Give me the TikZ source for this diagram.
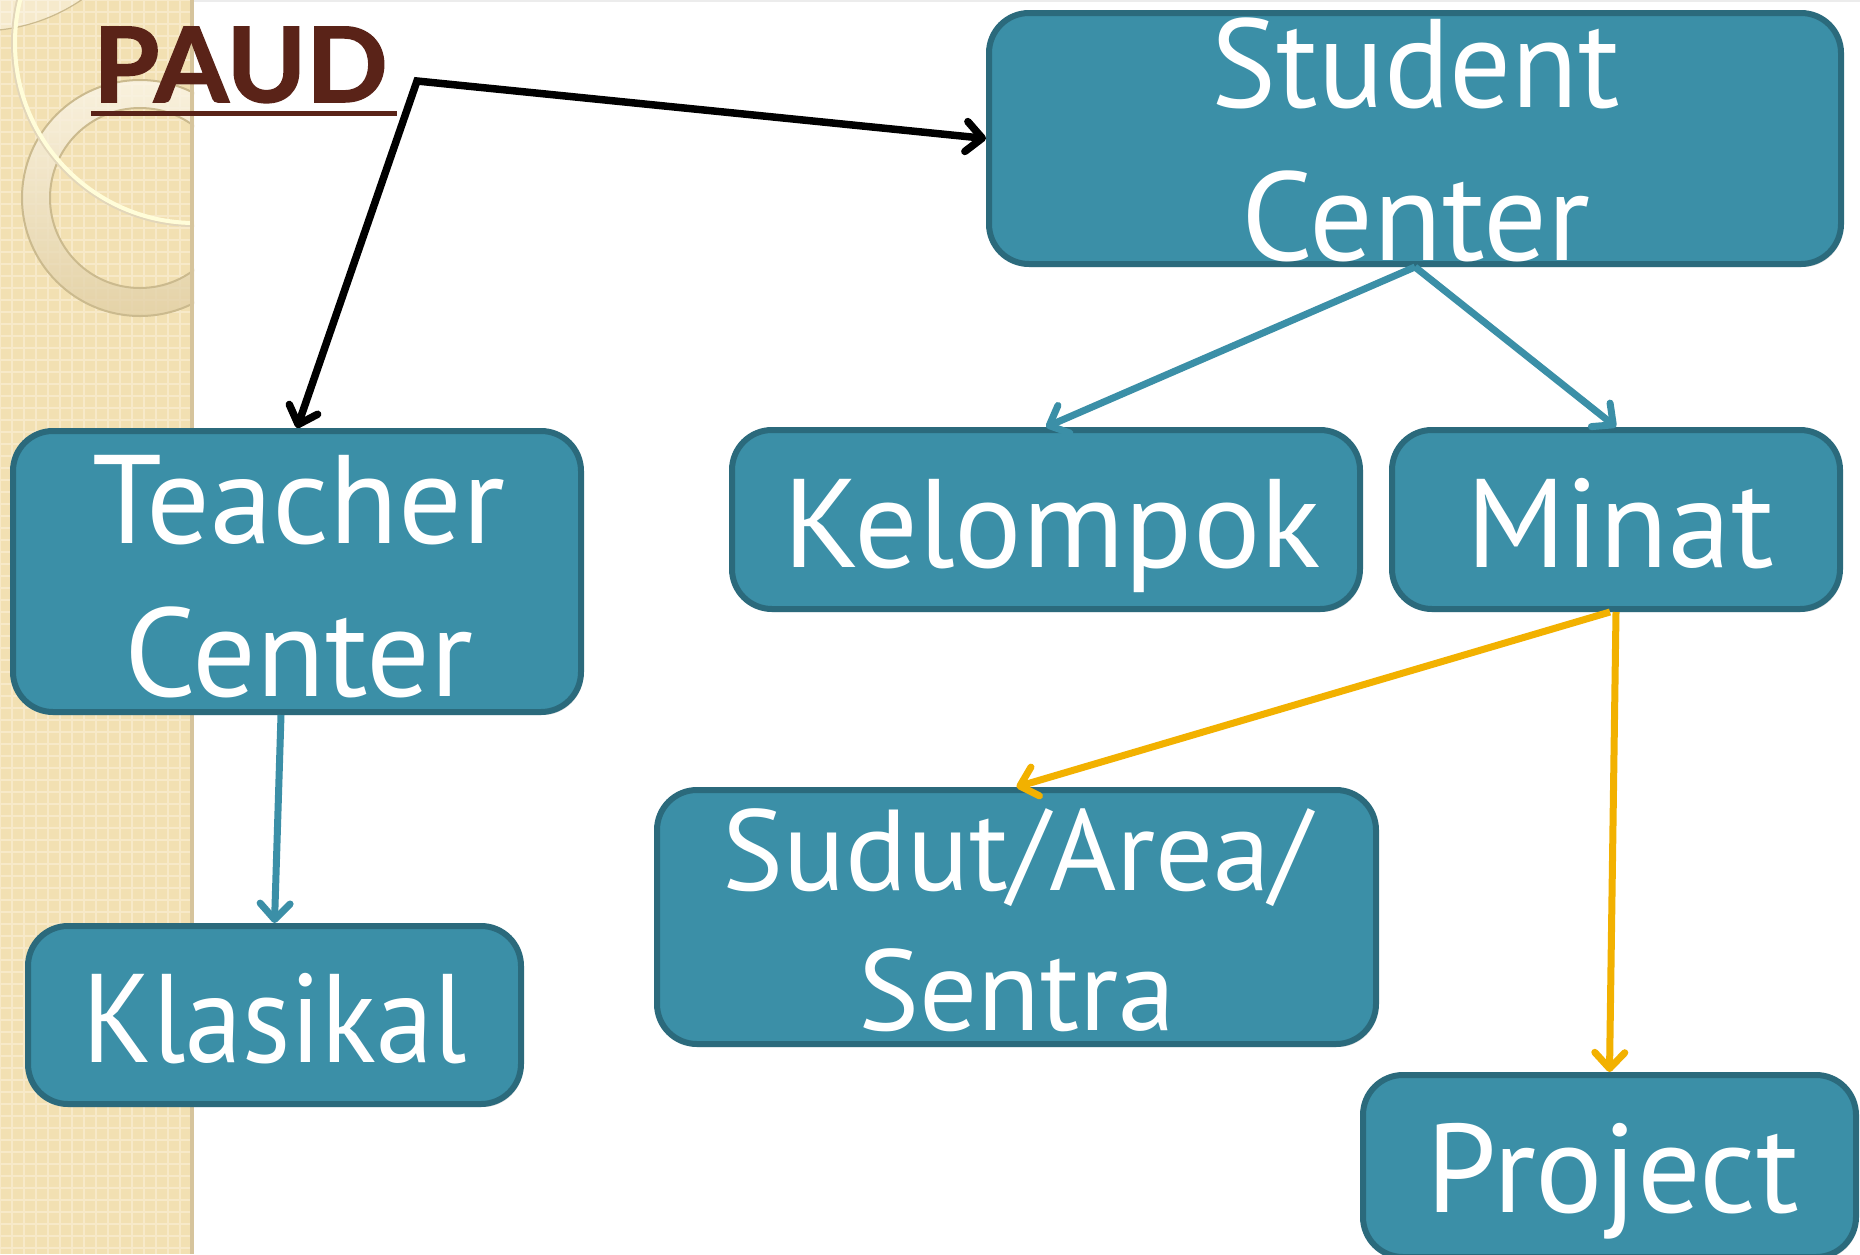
\documentclass[tikz,border=0pt]{standalone}
\usepackage{fontspec}
\usepackage{graphicx}
\usetikzlibrary{arrows.meta,shadows}
\newfontfamily\boxfont{PT Sans}
\newfontfamily\titlefont{Lato}[BoldFeatures={FakeBold=1.5}]
\definecolor{boxfill}{RGB}{59,143,167}
\definecolor{boxline}{RGB}{43,106,124}
\definecolor{gold}{RGB}{242,177,0}
\definecolor{paud}{RGB}{90,35,24}
\definecolor{stripbase}{RGB}{242,224,178}
\definecolor{stripgrid}{RGB}{247,233,200}
\definecolor{stripedge}{RGB}{214,196,156}
\definecolor{ringline}{RGB}{203,186,142}
\tikzset{
  box/.style={draw=boxline, fill=boxfill, line width=6pt, rounded corners=40pt,
    inner sep=0pt, drop shadow={opacity=0.25, shadow xshift=2pt, shadow yshift=-3pt}},
  lbl/.style={text=white, align=center, inner sep=0pt, anchor=base},
  big/.style={font=\fontsize{126}{153}\boxfont},
  mid/.style={font=\fontsize{115}{140}\boxfont},
  tealarrow/.style={draw=boxfill, line width=7pt, -{Straight Barb[length=16pt,width=30pt,round]}},
  goldarrow/.style={draw=gold, line width=7pt, -{Straight Barb[length=16pt,width=30pt,round]}},
  blackarrow/.style={draw=black, line width=7.5pt, line join=miter,
    {Straight Barb[length=16pt,width=30pt,round]}-{Straight Barb[length=16pt,width=30pt,round]}},
}
\begin{document}
\begin{tikzpicture}[x=1pt, y=-1pt]
\useasboundingbox (0,0) rectangle (1860,1254);
\fill[white] (0,0) rectangle (1860,1254);
% left decorative strip
\fill[stripbase] (0,0) rectangle (194,1254);
\draw[stripgrid, line width=2pt, step=12pt] (0,0) grid (194,1254);
\begin{scope}
  \clip (0,0) rectangle (194,1254);
  \fill[white, opacity=0.35] (-20,-150) circle[radius=181pt];
  \draw[ringline, line width=1.2pt] (-20,-150) circle[radius=181pt];
  \shade[even odd rule, top color=white!70!stripbase, bottom color=stripedge!60!stripbase, opacity=0.8]
    (140,198) circle[radius=118pt] (140,198) circle[radius=90pt];
  \draw[ringline, line width=2pt] (140,198) circle[radius=118pt];
  \draw[ringline, line width=2pt] (140,198) circle[radius=90pt];
  \draw[stripedge!70, line width=2pt] (195,43) circle[radius=183pt];
  \draw[white!85!yellow, line width=4pt] (195,43) circle[radius=180pt];
  \fill[stripedge] (190,0) rectangle (194,1254);
\end{scope}
\draw[gray!15, line width=2pt] (194,1) -- (1860,1);
% title
\node[font=\fontsize{104}{110}\titlefont\bfseries, text=paud, anchor=base west, inner sep=0pt] (paud) at (93,102) {\scalebox{1.03}[1]{PAUD}};
\draw[paud, line width=5pt] (91,113) -- (397,113);
% boxes
\node[box, minimum width=852pt, minimum height=251pt] (sc) at (1415,138.5) {};
\node[box, minimum width=568pt, minimum height=281pt] (tc) at (297,571.5) {};
\node[box, minimum width=628pt, minimum height=179pt] (ke) at (1046,519.5) {};
\node[box, minimum width=448pt, minimum height=179pt] (mi) at (1616,519.5) {};
\node[box, minimum width=719pt, minimum height=254pt] (su) at (1016.5,917) {};
\node[box, minimum width=493pt, minimum height=178pt] (kl) at (274.5,1015) {};
\node[box, minimum width=493pt, minimum height=182pt] (pr) at (1609.5,1166) {};
% texts (base anchor = baseline of last line)
\node[lbl, big] (sct) at (1416,260) {\scalebox{0.97}[1]{Student}\\Center};
\node[lbl, big] (tct) at (299,696) {Teacher\\Center};
\node[lbl, big] (ket) at (1052,567) {Kelompok};
\node[lbl, big] (mit) at (1620,567) {Minat};
\node[lbl, mid] (sut) at (1017,1030) {Sudut/Area/\\Sentra};
\node[lbl, big] (klt) at (274.5,1062) {\scalebox{0.91}[1]{Klasikal}};
\node[lbl, big] (prt) at (1613,1212) {Project};
% connectors
\coordinate (bend) at (417,81);
\draw[blackarrow] (tc.north) -- (bend) -- (sc.west);
\draw[tealarrow] (sc.south) -- (ke.north);
\draw[tealarrow] (sc.south) -- (mi.north);
\draw[tealarrow] ([xshift=-16pt]tc.south) -- (kl.north);
\draw[goldarrow] ([xshift=-6pt]mi.south) -- (su.north);
\draw[goldarrow] (mi.south) -- (pr.north);
\end{tikzpicture}
\end{document}
